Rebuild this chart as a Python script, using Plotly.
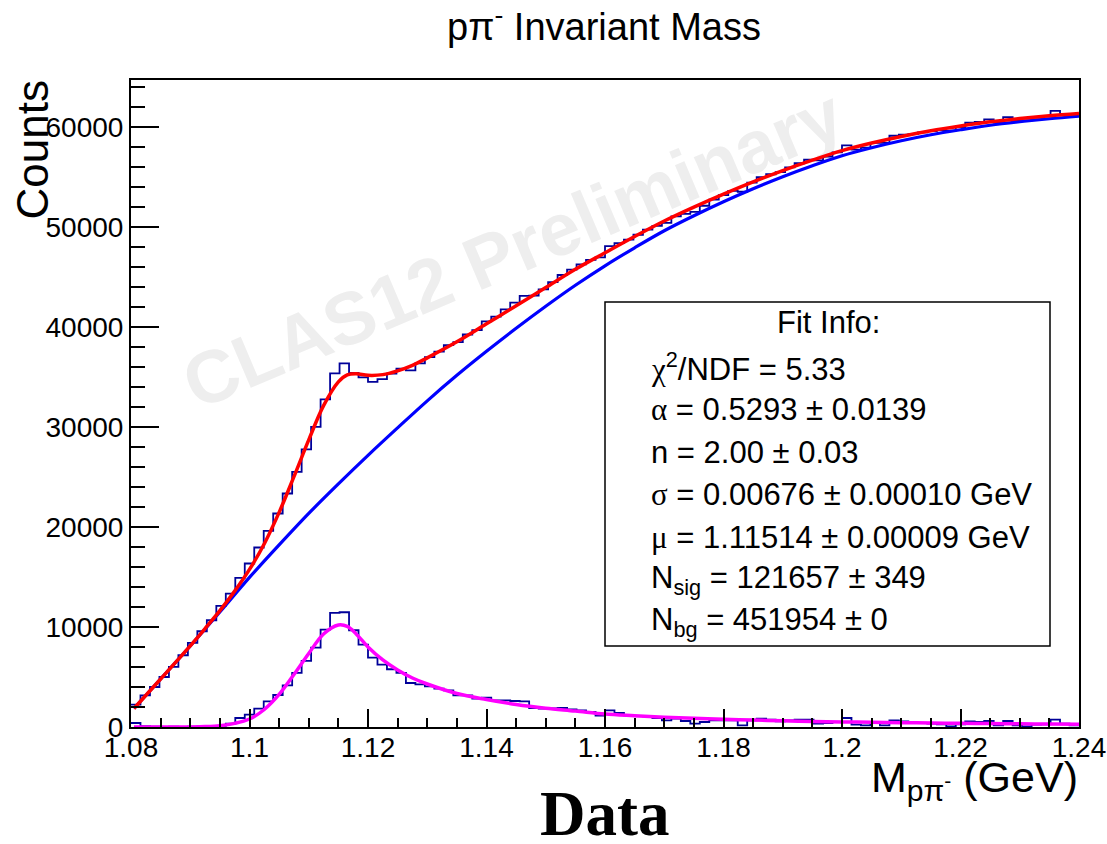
import numpy as np
import plotly.graph_objects as go

# ---------------- data ----------------
x_min, x_max, n_bins = 1.08, 1.24, 100

total_counts = [2240, 3170, 4000, 5000, 6000, 7170, 8400, 9570, 10670, 12100,
                13340, 14900, 16340, 17940, 19600, 21340, 23340, 25500, 27740, 30000,
                32740, 35340, 36340, 35400, 34940, 34500, 34770, 35330, 35810, 35640,
                36350, 36970, 37530, 38170, 38470, 39230, 39670, 40540, 41010, 41740,
                42410, 43090, 43120, 43750, 44470, 45180, 45720, 46250, 46690, 46950,
                48060, 48360, 48710, 49200, 49720, 50090, 50390, 51030, 51280, 51490,
                52100, 52720, 53170, 53590, 53500, 54420, 54970, 55250, 55470, 55930,
                56350, 56700, 56630, 57020, 57440, 58130, 57710, 57910, 58380, 58380,
                59100, 59220, 59270, 59430, 59550, 59650, 59610, 59970, 60410, 60490,
                60730, 60420, 60960, 60640, 60640, 60900, 61030, 61580, 61260, 61180]

signal_counts = [400, 80, 30, 20, 30, 20, 40, 50, 60, 120,
                 340, 900, 1230, 1830, 2570, 3200, 4170, 5400, 6600, 7930,
                 9740, 11400, 11470, 9670, 8230, 6930, 6230, 5770, 5400, 4400,
                 4270, 4070, 3830, 3670, 3170, 3170, 2840, 2940, 2670, 2670,
                 2600, 2570, 1900, 1830, 1870, 1900, 1770, 1670, 1500, 1150,
                 1670, 1400, 1170, 1100, 1070, 900, 670, 830, 600, 330,
                 500, 670, 670, 670, 170, 670, 830, 730, 570, 670,
                 730, 730, 330, 400, 500, 900, 230, 170, 400, 170,
                 670, 570, 430, 400, 330, 270, 70, 270, 570, 500,
                 600, 170, 600, 170, 70, 230, 270, 730, 330, 170]

bg_x = [1.0805, 1.085, 1.090, 1.095, 1.100, 1.105, 1.110, 1.115, 1.120, 1.125,
        1.130, 1.135, 1.140, 1.145, 1.150, 1.155, 1.160, 1.165, 1.170, 1.175,
        1.180, 1.185, 1.190, 1.195, 1.200, 1.205, 1.210, 1.215, 1.220, 1.225,
        1.230, 1.235, 1.240]
bg_y = [1850, 4800, 8100, 11500, 14950, 18200, 21350, 24300, 27150, 29900,
        32600, 35150, 37550, 39850, 42050, 44150, 46100, 47900, 49600, 51100,
        52500, 53800, 55000, 56100, 57100, 57900, 58600, 59200, 59700, 60150,
        60500, 60800, 61050]

fit_x = [1.0805, 1.085, 1.090, 1.0925, 1.095, 1.0975, 1.100, 1.1025, 1.105, 1.1075,
         1.110, 1.1125, 1.115, 1.1165, 1.118, 1.120, 1.1225, 1.125, 1.1275, 1.130,
         1.135, 1.140, 1.145, 1.150, 1.155, 1.160, 1.165, 1.170, 1.175, 1.180,
         1.185, 1.190, 1.195, 1.200, 1.205, 1.210, 1.215, 1.220, 1.225, 1.230,
         1.235, 1.240]
sig_fit_y = [0, 0, 10, 40, 130, 360, 800, 1750, 3250, 5250,
             7350, 9300, 10200, 10050, 9300, 8000, 6700, 5700, 4900, 4300,
             3350, 2750, 2250, 1880, 1600, 1300, 1130, 980, 870, 770,
             690, 620, 560, 510, 470, 430, 400, 370, 340, 320,
             300, 280]
tot_fit_y = [1850, 4800, 8110, 9840, 11630, 13580, 15750, 18320, 21450, 25020,
             28700, 32120, 34500, 35200, 35310, 35150, 35220, 35600, 36150, 36900,
             38500, 40300, 42100, 43930, 45750, 47400, 49030, 50580, 51970, 53270,
             54490, 55620, 56660, 57610, 58370, 59030, 59600, 60070, 60490, 60820,
             61100, 61330]

x_tick_vals = [1.08, 1.10, 1.12, 1.14, 1.16, 1.18, 1.20, 1.22, 1.24]
x_tick_text = ["1.08", "1.1", "1.12", "1.14", "1.16", "1.18", "1.2", "1.22", "1.24"]
y_tick_vals = [0, 10000, 20000, 30000, 40000, 50000, 60000]
y_tick_text = ["0", "10000", "20000", "30000", "40000", "50000", "60000"]

SERIF = "Liberation Serif, Times New Roman, serif"


def greek(ch):
    return '<span style="font-family:Liberation Serif">%s</span>' % ch


fit_lines = [
    greek("χ") + "<sup>2</sup>/NDF = 5.33",
    greek("α") + " = 0.5293 ± 0.0139",
    "n = 2.00 ± 0.03",
    greek("σ") + " = 0.00676 ± 0.00010 GeV",
    greek("μ") + " = 1.11514 ± 0.00009 GeV",
    "N<sub>sig</sub> = 121657 ± 349",
    "N<sub>bg</sub> = 451954 ± 0",
]

# ---------------- figure ----------------
W, H = 1107, 844
L, R, T, B = 131, 28, 80, 117
pw, ph = W - L - R, H - T - B


def px2paper(px, py):
    return (px - L) / pw, (H - B - py) / ph


edges = np.linspace(x_min, x_max, n_bins + 1)
step_x = list(edges)
FONT = "Liberation Sans, Arial, Helvetica, sans-serif"
HIST_COLOR = "#000099"

fig = go.Figure()
fig.add_trace(go.Scatter(x=step_x, y=total_counts + [total_counts[-1]], mode="lines",
                         line=dict(shape="hv", color=HIST_COLOR, width=1.8), hoverinfo="skip"))
fig.add_trace(go.Scatter(x=step_x, y=signal_counts + [signal_counts[-1]], mode="lines",
                         line=dict(shape="hv", color=HIST_COLOR, width=1.8), hoverinfo="skip"))
fig.add_trace(go.Scatter(x=bg_x, y=bg_y, mode="lines",
                         line=dict(shape="spline", color="#0000ff", width=3.2)))
fig.add_trace(go.Scatter(x=fit_x, y=sig_fit_y, mode="lines",
                         line=dict(shape="spline", color="#ff00ff", width=3.5)))
fig.add_trace(go.Scatter(x=fit_x, y=tot_fit_y, mode="lines",
                         line=dict(shape="spline", color="#ff0000", width=3.5)))

axis_common = dict(showgrid=False, zeroline=False, showline=True, linecolor="black",
                   linewidth=2, mirror=True, ticks="inside", tickcolor="black",
                   tickwidth=1.5, automargin=False,
                   tickfont=dict(family=FONT, size=28, color="black"))

fig.update_xaxes(range=[x_min, x_max], tickvals=x_tick_vals, ticktext=x_tick_text,
                 ticklen=18, ticklabelstandoff=-6,
                 minor=dict(dtick=0.005, tick0=1.08, ticklen=9, ticks="inside",
                            tickcolor="black", tickwidth=1.5, showgrid=False),
                 **axis_common)
fig.update_yaxes(range=[0, 64670], tickvals=y_tick_vals, ticktext=y_tick_text,
                 ticklen=28,
                 minor=dict(dtick=2000, tick0=0, ticklen=14, ticks="inside",
                            tickcolor="black", tickwidth=1.5, showgrid=False),
                 **axis_common)

# watermark (below the data)
wx0, wy0 = px2paper(190, 385)
wx1, wy1 = px2paper(830, 100)
fig.add_shape(type="line", xref="paper", yref="paper", x0=wx0, y0=wy0, x1=wx1, y1=wy1,
              line=dict(color="rgba(0,0,0,0)", width=0), layer="below",
              label=dict(text="<b>CLAS12 Preliminary</b>", textangle=-23,
                         textposition="middle", yanchor="middle", xanchor="center",
                         font=dict(family=FONT, size=74, color="#eeeeee")))

# fit info box
bx0, by0 = px2paper(605, 646)
bx1, by1 = px2paper(1050, 302)
fig.add_shape(type="rect", xref="paper", yref="paper", x0=bx0, y0=by0, x1=bx1, y1=by1,
              line=dict(color="black", width=1.5), fillcolor="white", layer="above")

annotations = []
cx, cy = px2paper(828, 322)
annotations.append(dict(text="Fit Info:", x=cx, y=cy, xref="paper", yref="paper",
                        xanchor="center", yanchor="middle", showarrow=False,
                        font=dict(family=FONT, size=31, color="black")))
line_y = [367, 409, 452, 494, 537, 580, 622]
for txt, py in zip(fit_lines, line_y):
    ax, ay = px2paper(649, py)
    annotations.append(dict(text=txt, x=ax, y=ay, xref="paper", yref="paper",
                            xanchor="left", yanchor="middle", showarrow=False,
                            font=dict(family=FONT, size=31, color="black")))

# axis titles
tx, ty = px2paper(1080, 780)
annotations.append(dict(text="M<sub>pπ<sup>-</sup></sub> (GeV)", x=tx, y=ty, xref="paper",
                        yref="paper", xanchor="right", yanchor="middle", showarrow=False,
                        font=dict(family=FONT, size=43, color="black")))
ux, uy = px2paper(32, 79)
annotations.append(dict(text="Counts", x=ux, y=uy, xref="paper", yref="paper",
                        xanchor="center", yanchor="top", textangle=-90, showarrow=False,
                        font=dict(family=FONT, size=44, color="black")))
# "Data" label
dx, dy = px2paper(604, 814)
annotations.append(dict(text="<b>Data</b>", x=dx, y=dy, xref="paper", yref="paper",
                        xanchor="center", yanchor="middle", showarrow=False,
                        font=dict(family=SERIF, size=63, color="black")))

fig.update_layout(
    width=W, height=H, autosize=False,
    margin=dict(l=L, r=R, t=T, b=B),
    paper_bgcolor="white", plot_bgcolor="white",
    showlegend=False,
    title=dict(text="pπ<sup>-</sup> Invariant Mass", x=604 / W, y=1 - 27 / H,
               xanchor="center", yanchor="middle",
               font=dict(family=FONT, size=38, color="black")),
    annotations=annotations,
)

fig.write_html("out.html")
